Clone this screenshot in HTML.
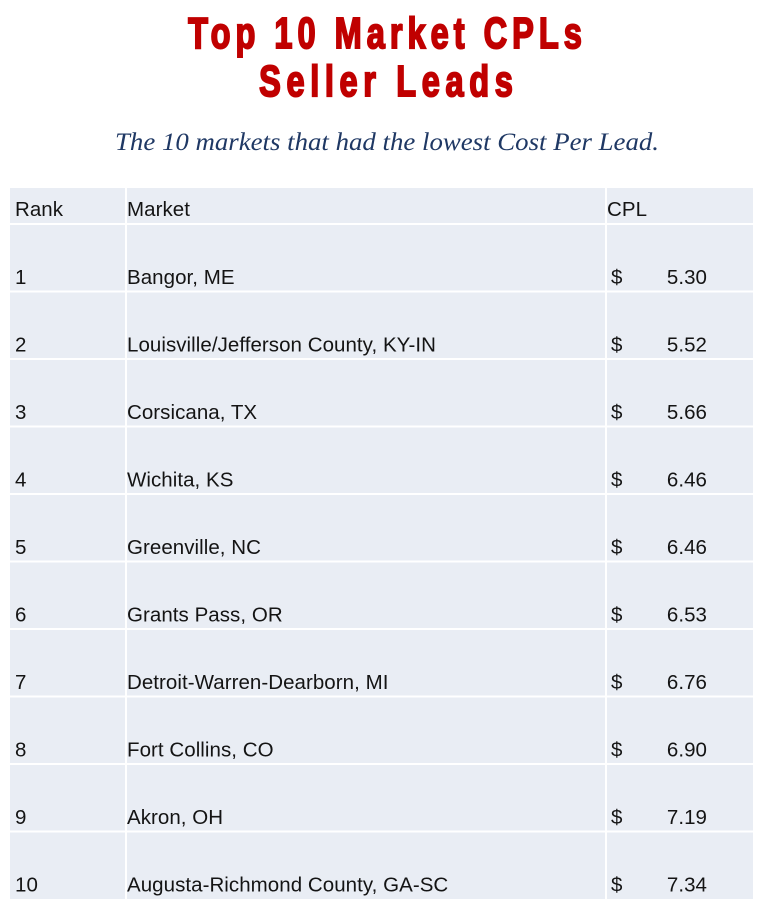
<!DOCTYPE html>
<html>
<head>
<meta charset="utf-8">
<style>
  html, body { margin: 0; padding: 0; background: #ffffff; }
  body { width: 770px; height: 911px; overflow: hidden; }
  svg { display: block; }
  .t { font-family: "Liberation Sans", Arial, sans-serif; font-size: 20.5px; fill: #141414; letter-spacing: 0.05px; }
</style>
</head>
<body>
<svg width="770" height="911" viewBox="0 0 770 911" xmlns="http://www.w3.org/2000/svg">
  <rect x="0" y="0" width="770" height="911" fill="#ffffff"/>

  <!-- Title -->
  <g transform="translate(385,48) scale(0.74,1)">
    <text x="0" y="0" text-anchor="middle" textLength="532" lengthAdjust="spacing"
      font-family="'Liberation Sans', Arial, sans-serif" font-weight="bold" font-size="44"
      fill="#C00000" stroke="#C00000" stroke-width="2">Top 10 Market CPLs</text>
  </g>
  <g transform="translate(386,96) scale(0.74,1)">
    <text x="0" y="0" text-anchor="middle" textLength="343" lengthAdjust="spacing"
      font-family="'Liberation Sans', Arial, sans-serif" font-weight="bold" font-size="44"
      fill="#C00000" stroke="#C00000" stroke-width="2">Seller Leads</text>
  </g>

  <!-- Subtitle -->
  <text x="387" y="150" text-anchor="middle" textLength="544" lengthAdjust="spacingAndGlyphs"
    font-family="'Liberation Serif', 'DejaVu Serif', serif" font-style="italic" font-size="25"
    fill="#1F3864">The 10 markets that had the lowest Cost Per Lead.</text>

  <!-- Table background -->
  <rect x="10" y="188" width="743" height="711" fill="#E9EDF4"/>
  <!-- vertical dividers -->
  <rect x="125" y="188" width="2" height="711" fill="#ffffff"/>
  <rect x="605" y="188" width="2" height="711" fill="#ffffff"/>
  <!-- horizontal dividers -->
  <rect x="10" y="223" width="743" height="2" fill="#ffffff"/>
  <rect x="10" y="290.5" width="743" height="2" fill="#ffffff"/>
  <rect x="10" y="358" width="743" height="2" fill="#ffffff"/>
  <rect x="10" y="425.5" width="743" height="2" fill="#ffffff"/>
  <rect x="10" y="493" width="743" height="2" fill="#ffffff"/>
  <rect x="10" y="560.5" width="743" height="2" fill="#ffffff"/>
  <rect x="10" y="628" width="743" height="2" fill="#ffffff"/>
  <rect x="10" y="695.5" width="743" height="2" fill="#ffffff"/>
  <rect x="10" y="763" width="743" height="2" fill="#ffffff"/>
  <rect x="10" y="830.5" width="743" height="2" fill="#ffffff"/>

  <!-- Header -->
  <text class="t" x="15" y="216">Rank</text>
  <text class="t" x="127" y="216">Market</text>
  <text class="t" x="607" y="216">CPL</text>

  <!-- Rows -->
  <text class="t" x="15" y="284">1</text>
  <text class="t" x="127" y="284">Bangor, ME</text>
  <text class="t" x="611" y="284">$</text>
  <text class="t" x="707" y="284" text-anchor="end">5.30</text>

  <text class="t" x="15" y="351.5">2</text>
  <text class="t" x="127" y="351.5">Louisville/Jefferson County, KY-IN</text>
  <text class="t" x="611" y="351.5">$</text>
  <text class="t" x="707" y="351.5" text-anchor="end">5.52</text>

  <text class="t" x="15" y="419">3</text>
  <text class="t" x="127" y="419">Corsicana, TX</text>
  <text class="t" x="611" y="419">$</text>
  <text class="t" x="707" y="419" text-anchor="end">5.66</text>

  <text class="t" x="15" y="486.5">4</text>
  <text class="t" x="127" y="486.5">Wichita, KS</text>
  <text class="t" x="611" y="486.5">$</text>
  <text class="t" x="707" y="486.5" text-anchor="end">6.46</text>

  <text class="t" x="15" y="554">5</text>
  <text class="t" x="127" y="554">Greenville, NC</text>
  <text class="t" x="611" y="554">$</text>
  <text class="t" x="707" y="554" text-anchor="end">6.46</text>

  <text class="t" x="15" y="621.5">6</text>
  <text class="t" x="127" y="621.5">Grants Pass, OR</text>
  <text class="t" x="611" y="621.5">$</text>
  <text class="t" x="707" y="621.5" text-anchor="end">6.53</text>

  <text class="t" x="15" y="689">7</text>
  <text class="t" x="127" y="689">Detroit-Warren-Dearborn, MI</text>
  <text class="t" x="611" y="689">$</text>
  <text class="t" x="707" y="689" text-anchor="end">6.76</text>

  <text class="t" x="15" y="756.5">8</text>
  <text class="t" x="127" y="756.5">Fort Collins, CO</text>
  <text class="t" x="611" y="756.5">$</text>
  <text class="t" x="707" y="756.5" text-anchor="end">6.90</text>

  <text class="t" x="15" y="824">9</text>
  <text class="t" x="127" y="824">Akron, OH</text>
  <text class="t" x="611" y="824">$</text>
  <text class="t" x="707" y="824" text-anchor="end">7.19</text>

  <text class="t" x="15" y="891.5">10</text>
  <text class="t" x="127" y="891.5">Augusta-Richmond County, GA-SC</text>
  <text class="t" x="611" y="891.5">$</text>
  <text class="t" x="707" y="891.5" text-anchor="end">7.34</text>
</svg>
</body>
</html>
